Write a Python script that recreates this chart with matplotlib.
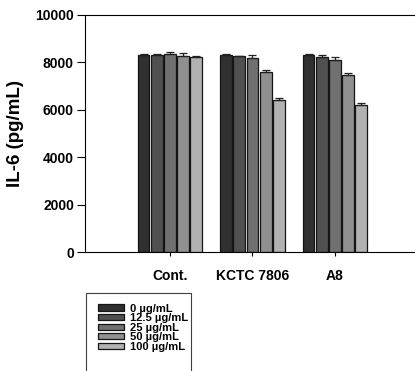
import numpy as np
import matplotlib.pyplot as plt
from matplotlib.patches import Rectangle

plt.rcParams['font.family'] = ['Liberation Sans', 'DejaVu Sans']
plt.rcParams['font.weight'] = 'bold'

groups = ['Cont.', 'KCTC 7806', 'A8']
doses = ['0 \u00b5g/mL', '12.5 \u00b5g/mL', '25 \u00b5g/mL', '50 \u00b5g/mL', '100 \u00b5g/mL']
colors = ['#303030', '#505050', '#707070', '#909090', '#b2b2b2']

# IL-6 means per dose, one list per dose (Cont., KCTC 7806, A8)
il6_0 = [8300, 8300, 8300]
il6_12 = [8320, 8250, 8230]
il6_25 = [8350, 8200, 8100]
il6_50 = [8280, 7580, 7450]
il6_100 = [8230, 6420, 6200]

err_0 = [50, 50, 50]
err_12 = [40, 20, 100]
err_25 = [100, 130, 120]
err_50 = [120, 80, 120]
err_100 = [60, 80, 80]

means = [il6_0, il6_12, il6_25, il6_50, il6_100]
errs = [err_0, err_12, err_25, err_50, err_100]

fig = plt.figure(figsize=(4.15, 3.71), dpi=100)
ax = fig.add_axes([85/415, 1-252/371, 1-85/415, (252-15)/371])

x = np.arange(len(groups))
step = 0.16
w = 0.143
for i in range(5):
    pos = x + (i - 2) * step
    ax.bar(pos, means[i], w, color=colors[i], edgecolor='#151515', linewidth=0.9,
           label=doses[i], zorder=2)
    ax.errorbar(pos, means[i], yerr=[np.zeros(3), errs[i]], fmt='none',
                ecolor='#202020', elinewidth=0.9, capsize=3, capthick=0.9, zorder=3)

ax.set_xlim(-1.03, 2.97)
ax.set_ylim(0, 10000)
ax.set_yticks([0, 2000, 4000, 6000, 8000, 10000])
ax.set_xticks(x)
ax.set_xticklabels(groups)
ax.tick_params(axis='both', labelsize=10, width=0.8, direction='out')
ax.tick_params(axis='y', length=6, pad=2)
ax.tick_params(axis='x', length=3, pad=9)
ax.set_ylabel('IL-6 (pg/mL)', fontsize=13.5, fontweight='bold', labelpad=8)
ax.spines['right'].set_visible(False)
for s in ['left', 'bottom', 'top']:
    ax.spines[s].set_linewidth(0.8)

fig.patches.append(Rectangle((86/415, -0.1), (191-86)/415, 0.1 + 1-293/371,
                             transform=fig.transFigure, fill=False,
                             edgecolor='#404040', linewidth=0.8))
fig.legend(loc='upper left', bbox_to_anchor=(92/415, 1-298/371), frameon=False,
           fontsize=8, handlelength=2.4, handleheight=0.5, handletextpad=0.5,
           labelspacing=-0.04, borderpad=0)

fig.savefig('out.png', dpi=100)
